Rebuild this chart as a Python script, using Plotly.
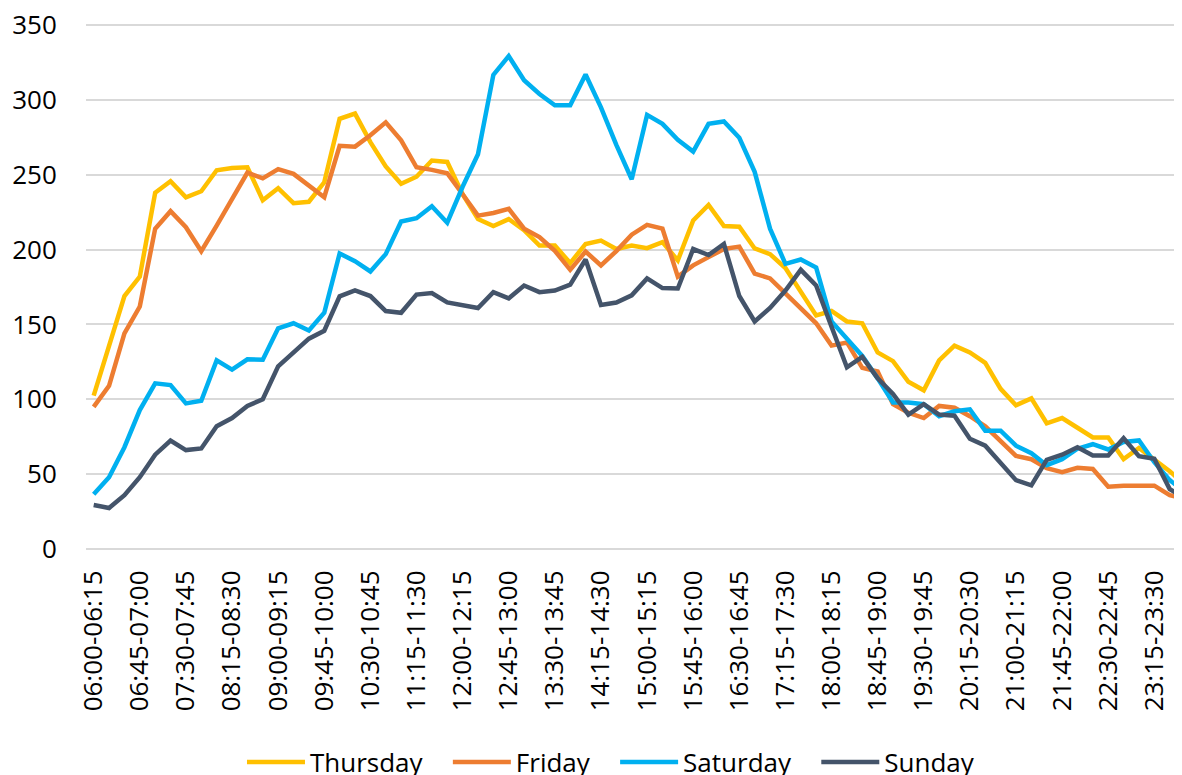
import plotly.graph_objects as go

# 15-minute categories from 06:00 to 24:00
starts = [f"{6 + q // 4:02d}:{(q % 4) * 15:02d}" for q in range(72)]
ends = [f"{6 + (q + 1) // 4:02d}:{((q + 1) % 4) * 15:02d}" for q in range(72)]
categories = [f"{s}-{e}" for s, e in zip(starts, ends)]
tick_labels = categories[::3]

thursday = [102.5, 134.7, 169, 182, 238, 245.7, 235, 239, 253, 254.5, 255, 233,
            241, 231, 232, 245, 287.4, 290.9, 271.8, 255.6, 244, 248.7, 259.5, 258.6,
            237, 220.4, 215.8, 220.4, 213, 202.7, 202.7, 191, 203.8, 206, 200.4, 202.7,
            201, 205, 192.8, 219.5, 229.8, 215.8, 215.3, 200.8, 197, 187.7, 171.6, 156,
            159, 152, 150.8, 131.3, 125.5, 111.7, 106, 126, 135.9, 131.3, 124.4, 107,
            96, 100.6, 84, 87.5, 81, 74.5, 74.5, 60, 67.5, 60, 52, 43]
friday = [95, 109, 144, 162, 214, 225.7, 215, 199, 216, 234, 251.5, 247.6,
          253.8, 250.6, 243, 235, 269.4, 268.8, 276.4, 285, 273, 255, 253.3, 251,
          237, 222.7, 224.5, 227.3, 214, 208.4, 199.2, 186.5, 198.7, 189.5, 199, 210,
          216.5, 214, 182, 189.5, 195, 200.4, 202, 184, 180.8, 171, 161, 150.8,
          135.9, 138, 121, 118.6, 96.7, 91, 87.5, 95.6, 94.4, 88.7, 82, 72.5,
          62.2, 60, 54, 51.4, 54.3, 53.5, 41.6, 42.3, 42.3, 42.3, 36, 33.5]
saturday = [36.5, 47.9, 68, 92.8, 110.7, 109.5, 97.3, 99, 126, 119.8, 126.7, 126.5,
            147.4, 150.8, 146, 157.8, 197.4, 192.3, 185.4, 197, 218.8, 221, 229, 218,
            242, 263.7, 316.7, 329.3, 313.2, 304, 296.4, 296.4, 317, 295, 270, 247,
            290, 284, 273.4, 265.5, 284, 285.6, 274.7, 252, 214, 190.5, 193.4, 188,
            152, 140.5, 129, 114, 97.9, 97.9, 96.7, 88.7, 92, 93.3, 79, 79,
            69, 64, 56, 60, 67, 70, 66.5, 71.5, 72.5, 58, 46, 38]
sunday = [29.4, 27.4, 36, 48, 63, 72.4, 66.1, 67.2, 82, 87.5, 95.6, 100,
          122, 131, 140.5, 145.8, 168.8, 172.7, 169, 159, 157.8, 170, 171, 164.7,
          163, 161, 171.6, 167.4, 176, 171.6, 172.7, 176.6, 193.4, 163, 164.7, 169.5,
          180.8, 174.3, 174, 200.4, 196.4, 203.8, 169, 152, 161, 172.7, 186.5, 176,
          148.5, 121.4, 128.3, 114, 103.6, 89.8, 96.7, 89.8, 89, 73.7, 69, 58,
          46, 42.5, 59.5, 63, 68, 62.5, 62.5, 74, 62, 60.3, 40, 34]

series = [("Thursday", thursday, "#FFC000"),
          ("Friday", friday, "#ED7D31"),
          ("Saturday", saturday, "#00B0F0"),
          ("Sunday", sunday, "#44546A")]

FONT = "Open Sans"
PAD = "\u00a0\u00a0\u00a0"  # invisible padding to widen legend spacing

fig = go.Figure()
for i, (name, vals, color) in enumerate(series):
    label = name + (PAD if i < len(series) - 1 else "")
    fig.add_trace(go.Scatter(x=categories, y=vals, mode="lines", name=label,
                             line=dict(color=color, width=4.5)))

# page body has an 8px default margin, so the figure is 8px smaller
fig.update_layout(
    width=1174, height=767,
    margin=dict(l=78, r=0, t=15, b=226, autoexpand=False),
    paper_bgcolor="white", plot_bgcolor="white",
    font=dict(family=FONT, size=26, color="#000000"),
    showlegend=True,
    legend=dict(orientation="h", x=0.479, xanchor="center", y=-0.405, yanchor="middle",
                font=dict(family=FONT, size=26, color="#000000"),
                itemwidth=58, bgcolor="rgba(0,0,0,0)"),
)
fig.update_xaxes(
    type="category", categoryorder="array", categoryarray=categories,
    range=[-0.5, 70.8],
    tickmode="array", tickvals=tick_labels, ticktext=tick_labels,
    tickangle=-90, ticks="outside", ticklen=10, tickcolor="rgba(0,0,0,0)",
    showgrid=False, showline=False, zeroline=False, ticklabeloverflow="allow",
    tickfont=dict(family=FONT, size=26, color="#000000"),
)
fig.update_yaxes(
    range=[0, 351.4], tickmode="array", tickvals=[0, 50, 100, 150, 200, 250, 300, 350],
    showgrid=True, gridcolor="#D9D9D9", gridwidth=2,
    zeroline=True, zerolinecolor="#D9D9D9", zerolinewidth=2,
    showline=False, ticks="outside", ticklen=23, tickcolor="rgba(0,0,0,0)",
    ticklabeloverflow="allow",
    tickfont=dict(family=FONT, size=26, color="#000000"),
)

fig.write_html("out.html")
